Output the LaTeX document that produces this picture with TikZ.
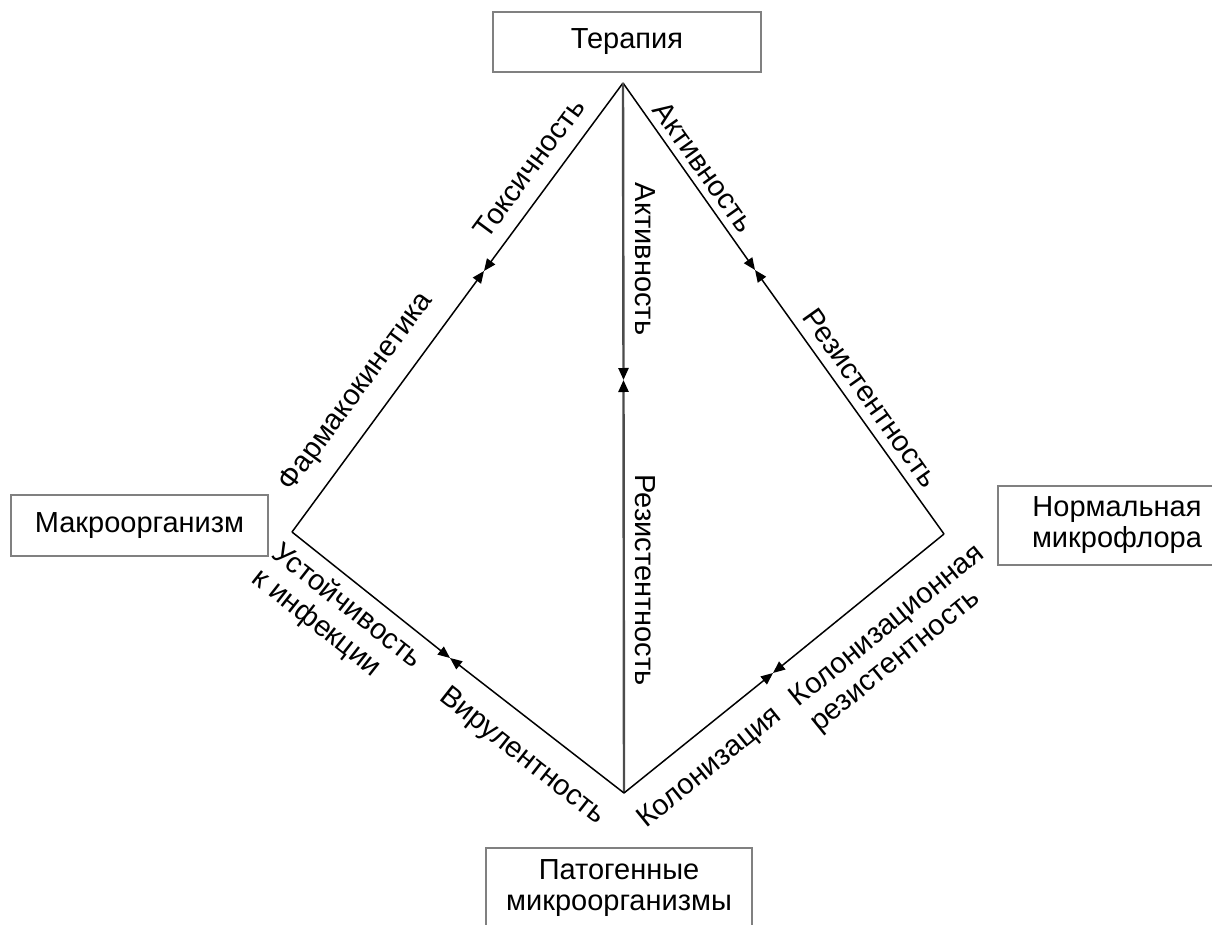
\documentclass[tikz,border=0pt]{standalone}
\usepackage{fontspec}
\setmainfont{Liberation Sans}
\usetikzlibrary{arrows.meta}
\begin{document}
\begin{tikzpicture}[x=1pt,y=1pt,
  box/.style={draw=gray, line width=1.3pt, fill=white, inner sep=0pt, align=center, font=\fontsize{29}{31}\selectfont},
  lbl/.style={inner sep=0pt, font=\fontsize{29}{32}\selectfont},
  edge/.style={line width=1.5pt, -{Triangle[length=12pt,width=10pt,color=black]}},
  vedge/.style={edge, draw=gray!60!black, line width=2.4pt}
]
\useasboundingbox (0,0) rectangle (1212,-925);
% boxes
\node[box, minimum width=268pt, minimum height=60pt] (ter) at (627,-42) {Терапия};
\node[box, minimum width=257pt, minimum height=61pt] (mak) at (139.5,-525.5) {Макроорганизм};
\node[box, minimum width=238pt, minimum height=79pt] (nor) at (1117,-525.5) {Нормальная\\микрофлора};
\node[box, minimum width=266pt, minimum height=80pt] (pat) at (619,-888) {Патогенные\\микроорганизмы};
% vertices
\coordinate (T) at (623,-83);
\coordinate (L) at (292,-532);
\coordinate (R) at (944,-534);
\coordinate (B) at (624,-793);
% meeting points
\coordinate (mLT) at (484,-271);
\coordinate (mTR) at (755,-270);
\coordinate (mTB) at (623.5,-380);
\coordinate (mLB) at (450,-658);
\coordinate (mBR) at (773,-673);
% edges
\draw[edge] (T) -- (mLT);
\draw[edge] (L) -- (mLT);
\draw[edge] (T) -- (mTR);
\draw[edge] (R) -- (mTR);
\draw[vedge] (T) -- (mTB);
\draw[vedge] (B) -- (mTB);
\draw[edge] (L) -- (mLB);
\draw[edge] (B) -- (mLB);
\draw[edge] (B) -- (mBR);
\draw[edge] (R) -- (mBR);
% labels
\node[lbl, rotate=53.6] (l1) at (529,-168) {Токсичность};
\node[lbl, rotate=53.6] (l2) at (357,-392) {Фармакокинетика};
\node[lbl, rotate=-54.6] (l3) at (704,-167) {Активность};
\node[lbl, rotate=-54.6] (l4) at (871,-398) {Резистентность};
\node[lbl, rotate=-90] (l5) at (645,-259) {Активность};
\node[lbl, rotate=-90] (l6) at (645,-580) {Резистентность};
\node[lbl, rotate=-38.2, align=left] (l7) at (337,-619) {Устойчивость\\к инфекции};
\node[lbl, rotate=-38.2] (l8) at (522,-757) {Вирулентность};
\node[lbl, rotate=39] (l9) at (710,-768) {Колонизация};
\node[lbl, rotate=39, align=left] (l10) at (898,-639) {Колонизационная\\резистентность};
\end{tikzpicture}
\end{document}
